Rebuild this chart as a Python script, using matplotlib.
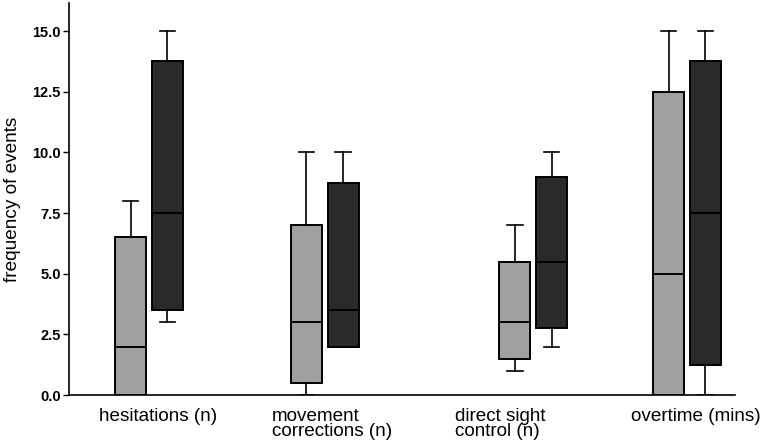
import matplotlib.pyplot as plt

plt.rcParams['font.family'] = ['Liberation Sans', 'DejaVu Sans']

# Data (five-number summaries)
categories = ["hesitations (n)", "movement\ncorrections (n)", "direct sight\ncontrol (n)", "overtime (mins)"]
grey_low = [0, 0, 1, 0]
grey_q1 = [0, 0.5, 1.5, 0]
grey_med = [2, 3, 3, 5]
grey_q3 = [6.5, 7, 5.5, 12.5]
grey_high = [8, 10, 7, 15]
dark_low = [3, 2, 2, 0]
dark_q1 = [3.5, 2, 2.75, 1.25]
dark_med = [7.5, 3.5, 5.5, 7.5]
dark_q3 = [13.75, 8.75, 9, 13.75]
dark_high = [15, 10, 10, 15]

# layout
group_x = [1.20, 3.84, 6.97, 9.28]
label_x = [0.45, 3.05, 5.80, 8.44]
offset = 0.276
box_w = 0.465


def stats(low, q1, med, q3, high):
    return [dict(whislo=a, q1=b, med=c, q3=d, whishi=e, fliers=[])
            for a, b, c, d, e in zip(low, q1, med, q3, high)]


fig = plt.figure(figsize=(7.62, 4.43), dpi=100)
ax = fig.add_axes([0.0906, 0.108, 0.874, 0.885])

for st, sign, color in [(stats(grey_low, grey_q1, grey_med, grey_q3, grey_high), -1, '#a0a0a0'),
                        (stats(dark_low, dark_q1, dark_med, dark_q3, dark_high), 1, '#2a2a2a')]:
    ax.bxp(st, positions=[g + sign * offset for g in group_x], widths=box_w,
           capwidths=box_w * 0.5, patch_artist=True, showfliers=False,
           boxprops=dict(facecolor=color, edgecolor='black', linewidth=1.4),
           medianprops=dict(color='black', linewidth=1.4),
           whiskerprops=dict(color='black', linewidth=1.2),
           capprops=dict(color='black', linewidth=1.2),
           manage_ticks=False, zorder=2)

ax.set_xlim(0, 10)
ax.set_ylim(0, 16.15)
ax.set_yticks([0, 2.5, 5, 7.5, 10, 12.5, 15])
ax.set_yticklabels(['0.0', '2.5', '5.0', '7.5', '10.0', '12.5', '15.0'])
ax.set_xticks(label_x)
ax.set_xticklabels(categories, fontsize=13.6, linespacing=0.9, ha='left')
ax.tick_params(axis='x', length=0, pad=9)
ax.tick_params(axis='y', length=4, width=1, labelsize=10.5, pad=2)
for t in ax.get_yticklabels():
    t.set_fontweight('bold')
ax.set_ylabel("frequency of events", fontsize=13.7, labelpad=8)

ax.spines['top'].set_visible(False)
ax.spines['right'].set_visible(False)
ax.spines['left'].set_linewidth(1.2)
ax.spines['bottom'].set_linewidth(1.2)

fig.savefig("out.png", dpi=100)
